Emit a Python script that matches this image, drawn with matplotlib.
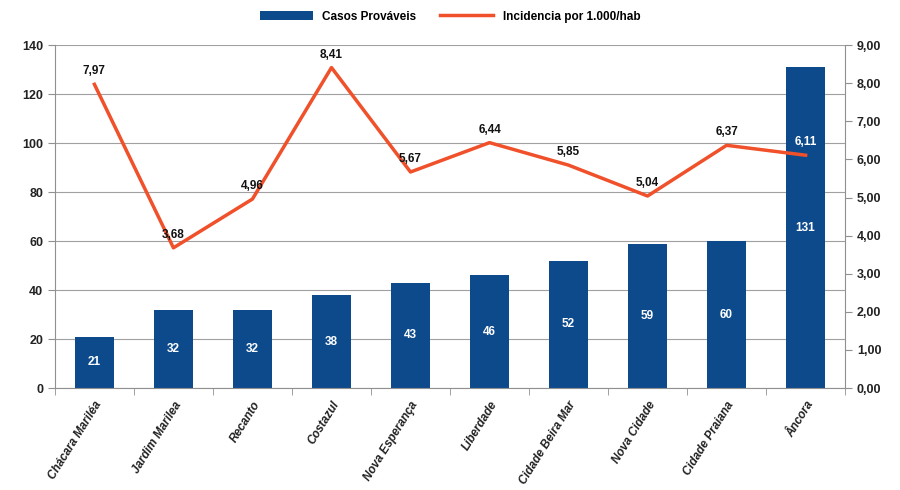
import matplotlib.pyplot as plt
import numpy as np

plt.rcParams['font.family'] = ['Liberation Sans', 'DejaVu Sans']

bairros = ['Chácara Mariléa', 'Jardim Marilea', 'Recanto', 'Costazul', 'Nova Esperança',
           'Liberdade', 'Cidade Beira Mar', 'Nova Cidade', 'Cidade Praiana', 'Âncora']
casos = [21, 32, 32, 38, 43, 46, 52, 59, 60, 131]
incidencia = [7.97, 3.68, 4.96, 8.41, 5.67, 6.44, 5.85, 5.04, 6.37, 6.11]

bar_color = '#0d4a8c'
line_color = '#f0502a'

fig = plt.figure(figsize=(9, 4.9), dpi=100)
ax = fig.add_axes([0.061, 0.208, 0.878, 0.7])
x = np.arange(len(bairros))

bars = ax.bar(x, casos, width=0.5, color=bar_color, zorder=2, label='Casos Prováveis')
for xi, v in zip(x, casos):
    ax.text(xi, v / 2, f'{v}', ha='center', va='center', color='white',
            fontsize=8.5, fontweight='bold', zorder=5)

ax.set_ylim(0, 140)
ax.set_yticks(range(0, 141, 20))
ax.set_xlim(-0.5, len(bairros) - 0.5)
ax.grid(True, axis='y', color='#a0a0a0', linewidth=0.8, zorder=0)
ax.set_axisbelow(True)
for s in ['top', 'right']:
    ax.spines[s].set_visible(False)
ax.spines['left'].set_color('#909090')
ax.spines['bottom'].set_color('#909090')
ax.tick_params(axis='y', colors='#909090', labelcolor='#222222', labelsize=9, length=5)
for lbl in ax.get_yticklabels():
    lbl.set_fontweight('bold')

# category boundary ticks on x axis
ax.set_xticks(np.arange(-0.5, len(bairros), 1), minor=True)
ax.set_xticks(x)
ax.set_xticklabels(bairros, rotation=58, ha='right', rotation_mode='anchor',
                   fontsize=8.5, fontweight='bold', style='italic', color='#222222',
                   family=['Liberation Sans Narrow', 'Liberation Sans', 'DejaVu Sans'])
ax.tick_params(axis='x', which='major', length=0, pad=8)
ax.tick_params(axis='x', which='minor', length=5, color='#909090')

ax2 = ax.twinx()
ax2.plot(x, incidencia, color=line_color, linewidth=2.5, zorder=3,
         label='Incidencia por 1.000/hab')
ax2.set_ylim(0, 9)
ax2.set_yticks(range(0, 10))
ax2.set_yticklabels([f'{v},00' for v in range(0, 10)])
for s in ['top', 'left', 'bottom']:
    ax2.spines[s].set_visible(False)
ax2.spines['right'].set_color('#909090')
ax2.tick_params(axis='y', colors='#909090', labelcolor='#222222', labelsize=9, length=5)
for lbl in ax2.get_yticklabels():
    lbl.set_fontweight('bold')

for i, (xi, v) in enumerate(zip(x, incidencia)):
    col = 'white' if i == len(x) - 1 else '#111111'
    ax2.annotate(f'{v:.2f}'.replace('.', ','), xy=(xi, v), xytext=(0, 5),
                 textcoords='offset points', ha='center', va='bottom',
                 fontsize=8.5, fontweight='bold', color=col, zorder=6)

h1, l1 = ax.get_legend_handles_labels()
h2, l2 = ax2.get_legend_handles_labels()
fig.legend(h1 + h2, l1 + l2, loc='upper center', bbox_to_anchor=(0.5, 1.0), ncol=2,
           frameon=False, prop={'size': 8.5, 'weight': 'bold'}, handlelength=4.5,
           columnspacing=2)

fig.savefig('out.png', dpi=100, facecolor='white')
